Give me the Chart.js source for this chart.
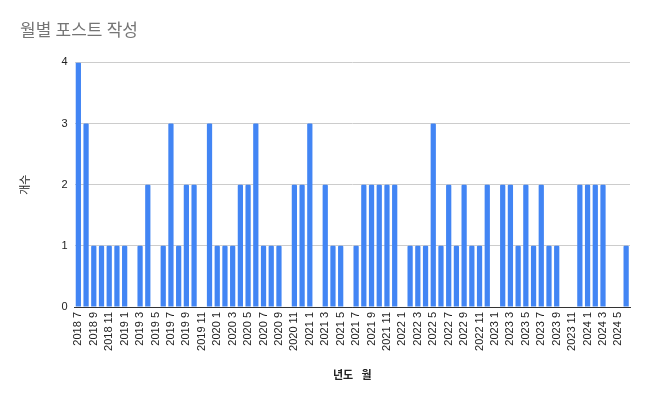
<!DOCTYPE html>
<html>
<head>
<meta charset="utf-8">
<script src="https://cdn.jsdelivr.net/npm/chart.js@4/dist/chart.umd.min.js"></script>
<style>
  html, body { margin: 0; padding: 0; background: #fff; }
  #wrap { width: 650px; height: 402px; position: relative; }
</style>
</head>
<body>
<div id="wrap"><canvas id="c" width="650" height="402"></canvas></div>
<script>
const chartTitle = '월별 포스트 작성';
const xAxisTitle = '년도   월';
const yAxisTitle = '개수';

const months = [
  '2018 7','2018 8','2018 9','2018 10','2018 11','2018 12',
  '2019 1','2019 2','2019 3','2019 4','2019 5','2019 6','2019 7','2019 8','2019 9','2019 10','2019 11','2019 12',
  '2020 1','2020 2','2020 3','2020 4','2020 5','2020 6','2020 7','2020 8','2020 9','2020 10','2020 11','2020 12',
  '2021 1','2021 2','2021 3','2021 4','2021 5','2021 6','2021 7','2021 8','2021 9','2021 10','2021 11','2021 12',
  '2022 1','2022 2','2022 3','2022 4','2022 5','2022 6','2022 7','2022 8','2022 9','2022 10','2022 11','2022 12',
  '2023 1','2023 2','2023 3','2023 4','2023 5','2023 6','2023 7','2023 8','2023 9','2023 10','2023 11','2023 12',
  '2024 1','2024 2','2024 3','2024 4','2024 5','2024 6'
];

const postCounts = [
  4,3,1,1,1,1,
  1,0,1,2,0,1,3,1,2,2,0,3,
  1,1,1,2,2,3,1,1,1,0,2,2,
  3,0,2,1,1,0,1,2,2,2,2,2,
  0,1,1,1,3,1,2,1,2,1,1,2,
  0,2,2,1,2,1,2,1,1,0,0,2,
  2,2,2,0,0,1
];

const yTicks = [0, 1, 2, 3, 4];

const fontFam = "Arial, 'Liberation Sans', 'Noto Sans CJK KR', sans-serif";
const titleFam = "Roboto, 'Noto Sans CJK KR', Arial, sans-serif";

new Chart(document.getElementById('c'), {
  type: 'bar',
  data: {
    labels: months,
    datasets: [{
      label: yAxisTitle,
      data: postCounts,
      backgroundColor: '#4285f4',
      borderWidth: 0,
      borderRadius: 1,
      barPercentage: 0.68,
      categoryPercentage: 1.0
    }]
  },
  options: {
    responsive: false,
    animation: false,
    devicePixelRatio: 1,
    layout: { padding: { left: 20, right: 20, top: 0, bottom: 0 } },
    plugins: {
      legend: { display: false },
      tooltip: { enabled: false },
      title: {
        display: true,
        text: chartTitle,
        align: 'start',
        color: '#757575',
        font: { family: titleFam, size: 17, weight: 'normal' },
        padding: { top: 22, bottom: 20 }
      }
    },
    scales: {
      x: {
        grid: { display: false, drawTicks: false },
        border: { display: true, color: '#333333', width: 1 },
        ticks: {
          autoSkip: false,
          maxRotation: 90,
          minRotation: 90,
          padding: 5,
          color: '#222222',
          font: { family: fontFam, size: 11 },
          callback: function(value, index) {
            return index % 2 === 0 ? months[index] : '';
          }
        },
        title: {
          display: true,
          text: xAxisTitle,
          color: '#222222',
          font: { family: titleFam, size: 11, weight: 'bold' },
          padding: { top: 0, bottom: 19 }
        },
        afterFit: function(scale) { scale.height = 95; }
      },
      y: {
        min: 0,
        max: 4,
        afterBuildTicks: function(scale) { scale.ticks = yTicks.map(v => ({ value: v })); },
        grid: {
          drawTicks: false,
          color: function(ctx) { return ctx.tick && ctx.tick.value === 0 ? '#333333' : '#cccccc'; },
          lineWidth: 1
        },
        border: { display: false },
        ticks: {
          padding: 7,
          color: '#222222',
          font: { family: fontFam, size: 11 }
        },
        title: {
          display: true,
          text: yAxisTitle,
          color: '#222222',
          font: { family: titleFam, size: 11, weight: 'normal' },
          padding: { top: 0, bottom: 0 }
        },
        afterFit: function(scale) { scale.width = 54.5; }
      }
    }
  }
});
</script>
</body>
</html>
